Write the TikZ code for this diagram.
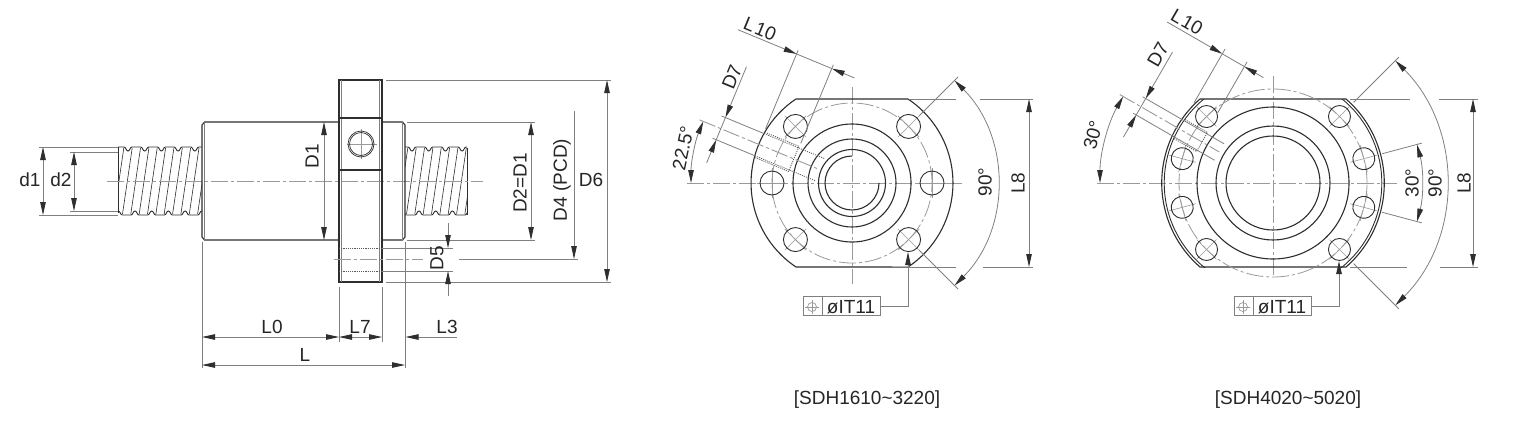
\documentclass[tikz,border=0pt]{standalone}
\usepackage{fontspec}
\setmainfont{Liberation Sans}
\usetikzlibrary{arrows.meta,calc}
\definecolor{dk}{HTML}{2E2E2E}
\definecolor{dimc}{HTML}{808080}
\definecolor{axc}{HTML}{9A9A9A}
\tikzset{
  outl/.style={draw=dk,line width=1.1pt},
  thin outl/.style={draw=dk,line width=0.9pt},
  dimline/.style={draw=dimc,line width=0.8pt},
  axisline/.style={draw=axc,line width=0.9pt,dash pattern=on 17pt off 3pt on 3pt off 3pt},
  dots/.style={draw=dk!80,line width=0.8pt,dash pattern=on 1.1pt off 1.1pt},
  tip/.style={-{Stealth[length=13pt,width=5.5pt,inset=0pt,color=dk]}},
  tips/.style={{Stealth[length=13pt,width=5.5pt,inset=0pt,color=dk]}-{Stealth[length=13pt,width=5.5pt,inset=0pt,color=dk]}},
  lab/.style={font=\fontsize{19}{19}\selectfont,text=black!85,inner sep=0pt,anchor=center},
  rlab/.style={lab,rotate=90},
}
% thread: first valley x, left clip, right clip
\newcommand{\threadpart}[3]{%
  \begin{scope}
    \clip (#2,144) rectangle (#3,218);
    \foreach \i in {-1,...,6}{%
      \pgfmathsetmacro\v{#1+16.7*\i}%
      \pgfmathsetmacro\w{\v-9.7}%
      \draw[thin outl] (\v-12.7,147) -- (\v-4,147) .. controls (\v-2,147) and (\v-2,151) .. (\v,151) .. controls (\v+2,151) and (\v+2,147) .. (\v+4,147);
      \draw[thin outl] (\w-12.7,215) -- (\w-4,215) .. controls (\w-2,215) and (\w-2,211) .. (\w,211) .. controls (\w+2,211) and (\w+2,215) .. (\w+4,215);
      \draw[draw=dk,line width=0.6pt] (\v-4.2,148) -- (\w-4.2,214);
      \draw[draw=dk,line width=0.6pt] (\v+4.2,148) -- (\w+4.2,214);
    }
  \end{scope}}
\newcommand{\holeat}[3]{% angle, R, r
  \begin{scope}[rotate=#1]
    \draw[draw=axc,line width=0.6pt] (#2-#3-3,0) -- (#2+#3+3,0);
    \draw[draw=axc,line width=0.6pt] (#2,-#3-3) -- (#2,#3+3);
    \draw[thin outl] (#2,0) circle[radius=#3];
  \end{scope}}
\begin{document}
\begin{tikzpicture}[x=1pt,y=-1pt]
\useasboundingbox (0,0) rectangle (1530,424);
\fill[white] (0,0) rectangle (1530,424);

%% ---------- side view ----------
\threadpart{128}{118}{202}
\threadpart{412}{405}{467}
\draw[thin outl] (118,147) -- (118,213);
\draw[thin outl] (467,148) -- (467,215);
\draw[axisline] (107,181) -- (483,181);
% nut body
\draw[outl] (339,122) -- (204.5,122) -- (202,125) -- (202,237) -- (204.5,240) -- (339,240);
\draw[draw=dimc,line width=0.9pt] (204.5,122) -- (204.5,240);
\draw[outl] (382,122) -- (402.5,122) -- (405,125) -- (405,237) -- (402.5,240) -- (382,240);
\draw[draw=dimc,line width=0.9pt] (402.5,122) -- (402.5,240);
% flange
\draw[outl] (339,80) rectangle (382,282);
\draw[draw=dimc,line width=1pt] (341.3,80) -- (341.3,282);
\draw[draw=dimc,line width=1pt] (379.7,80) -- (379.7,282);
\draw[outl] (339,118) -- (382,118);
\draw[outl] (339,170) -- (382,170);
\draw[dots] (339,248) -- (382,248);
\draw[dots] (339,271) -- (382,271);
\draw[axisline] (334,259) -- (423,259);
% radial hole
\draw[draw=axc,line width=0.7pt] (347,144) -- (377,144);
\draw[draw=axc,line width=0.7pt] (361,129) -- (361,159);
\draw[draw=dk,line width=0.7pt] (361,144) circle[radius=13];
\draw[draw=dk,line width=0.7pt] (361,144) circle[radius=11.5];
% d1 d2
\draw[dimline] (39,147) -- (118,147);
\draw[dimline] (39,215) -- (118,215);
\draw[dimline] (70,152) -- (118,152);
\draw[dimline] (70,211) -- (118,211);
\draw[dimline,tips] (43,147) -- (43,215);
\draw[dimline,tips] (74,152) -- (74,211);
\node[lab] (td1) at (30,180) {d1};
\node[lab] (td2) at (61,180) {d2};
% D1
\draw[dimline,tips] (324,122) -- (324,240);
\node[rlab] (tD1) at (312,156) {D1};
% D2
\draw[dimline] (407,122) -- (535,122);
\draw[dimline] (407,240) -- (535,240);
\draw[dimline,tips] (531,122) -- (531,240);
\node[rlab] (tD2) at (520,183) {D2=D1};
% D4
\draw[dimline] (459,259) -- (578,259);
\draw[dimline,tip] (574,111) -- (574,259);
\node[rlab] (tD4) at (562,180) {D4 (PCD)};
% D6
\draw[dimline] (386,80) -- (611,80);
\draw[dimline] (386,282) -- (611,282);
\draw[dimline,tips] (607,80) -- (607,282);
\node[lab] (tD6) at (591,180) {D6};
% D5
\draw[dimline] (382,248) -- (453,248);
\draw[dimline] (382,271) -- (453,271);
\draw[dimline,tip] (448,223) -- (448,248);
\draw[dimline,tip] (448,296) -- (448,271);
\node[rlab] (tD5) at (437,258) {D5};
% L dims
\draw[dimline] (202,242) -- (202,368);
\draw[dimline] (405,242) -- (405,368);
\draw[dimline] (339,287) -- (339,342);
\draw[dimline] (382,287) -- (382,342);
\draw[dimline,tips] (202,337) -- (339,337);
\draw[dimline,tips] (339,337) -- (382,337);
\draw[dimline,tip] (457,337) -- (405.5,337);
\draw[dimline,tips] (202,365) -- (405,365);
\node[lab] (tL0) at (272,327) {L0};
\node[lab] (tL7) at (360,327) {L7};
\node[lab] (tL3) at (447,327) {L3};
\node[lab] (tL) at (305,355) {L};

%% ---------- front view 1 ----------
\draw[axisline] (687,183) -- (962,183);
\draw[axisline] (852,87) -- (852,284);
\begin{scope}[shift={(852,183)},x=1pt,y=1pt]
  \draw[outl] (-56,84) -- (56,84) arc (56.3:-56.3:101) -- (-56,-84) arc (-123.7:-236.3:101);
  \draw[outl] (0,0) circle[radius=59];
  \draw[outl] (0,0) circle[radius=44];
  \draw[outl] (0,0) circle[radius=33.5];
  \draw[outl] (0,27) arc (90:360:27);
  \draw[draw=axc,line width=0.8pt,dash pattern=on 17pt off 3pt on 3pt off 3pt] (0,0) circle[radius=80];
  \foreach \a in {45,135,180,225,315,0}{\holeat{\a}{80}{12}}
  % ext. lines of 90 deg
  \draw[dimline] (45:95) -- (45:150);
  \draw[dimline] (-45:95) -- (-45:150);
  \draw[dimline,tips] (45:145) arc (45:-45:145);
  % 22.5 deg
  \draw[dimline,tips] (157.5:161) arc (157.5:180:161);
  \begin{scope}[rotate=157.5]
    \draw[axisline] (165,0) -- (35,0);
    \draw[dimline] (146,12) -- (100,12);
    \draw[dimline] (146,-12) -- (100,-12);
    \draw[dots] (100,12) -- (35,12);
    \draw[dots] (100,-12) -- (35,-12);
    \draw[dots] (99,13.6) -- (63,13.6) -- (63,-13.6) -- (99,-13.6);
    % D7
    \draw[dimline] (142,-12) -- (142,12);
    \draw[dimline,tip] (142,-67) -- (142,-12);
    \draw[dimline,tip] (142,37) -- (142,12);
    % L10
    \draw[dimline] (100.6,-17) -- (100.6,-102);
    \draw[dimline] (62.5,-17) -- (62.5,-102);
    \draw[dimline] (100.6,-98) -- (62.5,-98);
    \draw[dimline,tip] (164,-98) -- (100.6,-98);
    \draw[dimline,tip] (38,-98) -- (62.5,-98);
  \end{scope}
\end{scope}
\node[lab,rotate=-22.5] (tL10a) at (760,29) {L\kern1.5pt10};
\node[lab,rotate=67.5] (tD7a) at (732,77) {D7};
\node[lab,rotate=78] (t225) at (683,148) {22.5°};
\node[rlab] (t90a) at (985,182) {90°};
% L8
\draw[dimline] (909,99) -- (956,99);
\draw[dimline] (980,99) -- (1033,99);
\draw[dimline] (909,267) -- (956,267);
\draw[dimline] (983,267) -- (1033,267);
\draw[dimline,tips] (1029,99) -- (1029,267);
\node[rlab] (tL8a) at (1018,183) {L8};
% tolerance frame
\node[draw=dimc,line width=0.9pt,minimum width=77pt,minimum height=19pt,inner sep=0pt,anchor=south west] (fa) at (803,316) {};
\draw[dimline] (822,297) -- (822,316);
\draw[draw=axc,line width=0.7pt] (812,307) circle[radius=4.5];
\draw[draw=axc,line width=0.7pt] (805,307) -- (819,307);
\draw[draw=axc,line width=0.7pt] (812,300) -- (812,314);
\node[lab] (tita) at (851,307) {øIT11};
\coordinate (farrow) at (908,252);
\draw[dimline,tip] (fa.east) -| (farrow);
\node[lab] (capa) at (867,400) {[SDH1610\textasciitilde 3220]};

%% ---------- front view 2 ----------
\draw[axisline] (1097,183) -- (1397,183);
\draw[axisline] (1273,76) -- (1273,278);
\begin{scope}[shift={(1273,183)},x=1pt,y=1pt]
  \draw[outl] (-73,84) -- (73,84) arc (49:-49:111.3) -- (-73,-84) arc (-131:-229:111.3);
  \clip (-120,84) rectangle (120,-84);
  \draw[thin outl] (0,0) circle[radius=108.8];
\end{scope}
\begin{scope}[shift={(1273,183)},x=1pt,y=1pt]
  \draw[outl] (0,0) circle[radius=76];
  \draw[outl] (0,0) circle[radius=57];
  \draw[outl] (0,0) circle[radius=47];
  \draw[draw=axc,line width=0.8pt,dash pattern=on 17pt off 3pt on 3pt off 3pt] (0,0) circle[radius=94];
  \foreach \a in {15,45,135,165,195,225,315,345}{\holeat{\a}{94}{11}}
  \draw[dimline] (45:114) -- (45:178);
  \draw[dimline] (-45:114) -- (-45:178);
  \draw[dimline,tips] (45:173) arc (45:-45:173);
  \draw[dimline] (15:113) -- (15:154);
  \draw[dimline] (-15:113) -- (-15:154);
  \draw[dimline,tips] (15:149) arc (15:-15:149);
  \draw[dimline,tips] (150:173) arc (150:180:173);
  \begin{scope}[rotate=150]
    \draw[axisline] (177,0) -- (62,0);
    \draw[dimline] (156,9.5) -- (62,9.5);
    \draw[dimline] (156,-9.5) -- (62,-9.5);
    \draw[dots] (108,11) -- (82,11) -- (82,-11) -- (108,-11);
    % D7
    \draw[dimline] (152.5,-9.5) -- (152.5,9.5);
    \draw[dimline,tip] (152.5,-63) -- (152.5,-9.5);
    \draw[dimline,tip] (152.5,35) -- (152.5,9.5);
    % L10
    \draw[dimline] (108.5,-30) -- (108.5,-92);
    \draw[dimline] (83,-33) -- (83,-92);
    \draw[dimline] (108.5,-86.5) -- (83,-86.5);
    \draw[dimline,tip] (172,-86.5) -- (108.5,-86.5);
    \draw[dimline,tip] (61,-86.5) -- (83,-86.5);
  \end{scope}
\end{scope}
\node[lab,rotate=-30] (tL10b) at (1187,22) {L\kern1.5pt10};
\node[lab,rotate=60] (tD7b) at (1158,55) {D7};
\node[lab,rotate=75] (t30l) at (1093,135) {30°};
\node[rlab] (t30r) at (1412,183) {30°};
\node[rlab] (t90b) at (1435,183) {90°};
\draw[dimline] (1350,99) -- (1410,99);
\draw[dimline] (1439,99) -- (1478,99);
\draw[dimline] (1350,267) -- (1407,267);
\draw[dimline] (1440,267) -- (1478,267);
\draw[dimline,tips] (1473,99) -- (1473,267);
\node[rlab] (tL8b) at (1464,183) {L8};
\node[draw=dimc,line width=0.9pt,minimum width=77pt,minimum height=19pt,inner sep=0pt,anchor=south west] (fb) at (1234,316) {};
\draw[dimline] (1253,297) -- (1253,316);
\draw[draw=axc,line width=0.7pt] (1243,307) circle[radius=4.5];
\draw[draw=axc,line width=0.7pt] (1236,307) -- (1250,307);
\draw[draw=axc,line width=0.7pt] (1243,300) -- (1243,314);
\node[lab] (titb) at (1282,307) {øIT11};
\coordinate (fbrrow) at (1339,261);
\draw[dimline,tip] (fb.east) -| (fbrrow);
\node[lab] (capb) at (1288,400) {[SDH4020\textasciitilde 5020]};
\end{tikzpicture}
\end{document}
